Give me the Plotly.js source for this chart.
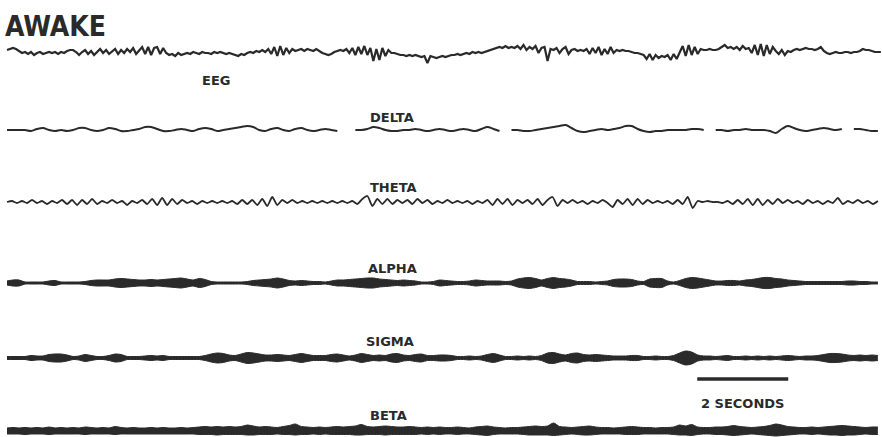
<!DOCTYPE html>
<html>
<head>
<meta charset="utf-8">
<script src="https://cdn.plot.ly/plotly-3.0.1.min.js"></script>
<style>
  html, body { margin: 0; padding: 0; background: #fff; }
  #chart { width: 882px; height: 437px; }
</style>
</head>
<body>
<div id="chart"></div>
<script>
// Sampling intervals of the stored records, in seconds
const EEG_DT = 0.066;
const THETA_DT = 0.11;
const ENV_DT = 0.132;

// Raw EEG (arbitrary amplitude units)
const eegRaw = [
  1, 2, 3, 2, 0, -2, -1, -3, -1, -4,
  -2, -1, -3, -2, -1, -2, -1, -3, -1, -2,
  0, 1, 1, -1, -4, -1, 1, -3, 0, -4,
  -1, 2, -2, 1, -3, 0, 2, -3, 1, -2,
  2, -1, 3, -3, 1, 4, -3, 4, -4, 3,
  4, -3, 3, -2, -4, -3, -5, -2, -4, -3,
  -2, -3, -1, -2, -3, -1, -2, -2, -3, -1,
  -2, -1, -2, -3, -2, -3, -4, -5, -3, -4,
  -2, -1, -2, 0, -1, 1, -1, 2, -3, 4,
  -5, 5, -4, 3, -2, 2, 0, 1, 2, 0,
  2, 1, 0, 2, 0, -2, -3, -4, -3, -1,
  0, 1, 0, 2, -2, 3, -4, 4, -3, 5,
  -4, 3, -10, 2, -9, 3, -5, 1, -2, -2,
  -3, -4, -4, -5, -4, -5, -4, -5, -6, -5,
  -12, -5, -6, -7, -6, -5, -6, -5, -4, -4,
  -3, -4, -3, -2, -3, -1, -2, -1, -2, -1,
  0, 1, 2, 3, 4, 3, 5, 3, 4, 3,
  5, 2, 6, 1, 4, 2, 5, -2, 3, 4,
  -10, 2, 1, 3, -2, 2, 4, -3, 1, 2,
  0, 1, 0, 2, -3, 3, -2, 4, -4, 2,
  -3, 4, -2, 1, 0, 1, 0, 0, -1, -2,
  -2, -3, -4, -8, -3, -9, -4, -7, -5, -6,
  -4, -9, -3, -8, -2, 5, -5, 6, -4, 4,
  -3, 2, 1, 1, 2, 1, 1, 2, 4, 6,
  3, 4, 2, 4, 1, 5, 2, 3, -2, 6,
  -4, 7, -5, 6, -3, 4, 0, -3, 1, -4,
  0, -1, 1, 2, 1, 2, 3, 2, 2, 1,
  2, 4, 0, -2, -3, -2, -1, -2, -2, -1,
  -1, -2, -1, -1, 0, 2, 1, 1, 0, -1,
  -1, -1
];

// Delta band (null = pen lift)
const deltaBand = [
  0, 0, 0, 0, -1, 1, 2, 0, -1, 0,
  -1, 0, 2, 2, 0, -1, 0, 2, 1, -1,
  -1, 0, 1, 3, 3, 1, -1, -1, 0, 1,
  0, -1, 1, 2, 1, -1, 0, 1, 2, 3,
  4, 3, 0, -1, 1, 2, 0, -1, 1, 2,
  0, -1, 0, 1, 0, -1, null, null, 0, 0,
  1, 3, 2, 0, -1, -1, 0, 0, 1, 0,
  -1, 0, 1, 0, -1, 0, 1, 0, -1, 1,
  3, 1, -1, null, 0, 0, -1, -1, 0, 1,
  2, 3, 4, 5, 2, -1, -2, -1, 0, 1,
  0, 1, 2, 4, 4, 1, -1, -2, -1, -1,
  0, 0, 0, 0, 1, 1, 0, null, 0, 0,
  -1, 0, 0, 1, 0, 0, 0, -1, -3, 1,
  4, 2, 0, -1, 0, 1, 2, 1, 0, 1,
  null, 1, 1, 0, -1, -1
];

// Theta band
const thetaBand = [
  0, 1, -1, 1, -1, 2, -1, 1, -2, 1,
  -1, 2, -2, 2, -3, 2, -2, 3, -2, 1,
  -1, 2, -1, 1, -3, 1, -1, 2, -2, 3,
  -3, 4, -3, 3, -2, 2, -1, 1, -2, 1,
  -1, 1, -1, 1, -1, 1, -2, 2, -2, 2,
  -3, 3, -4, 5, -3, 2, -1, 2, -1, 1,
  -1, 1, -1, 1, -1, 1, -1, 1, -1, 1,
  -2, 3, 6, -4, 3, -2, 3, -2, 2, -1,
  2, -2, 3, -1, 2, -2, 1, -1, 2, -1,
  1, -1, 1, -2, 1, -1, 2, -3, 3, -2,
  3, -3, 2, -1, 2, -2, 3, -3, 2, 5,
  -4, 2, -1, 2, -1, 1, -2, 1, -1, 2,
  -1, -5, 2, -2, 3, -3, 3, -2, 2, -1,
  1, -1, 1, -2, 2, -2, 5, -6, 1, 0,
  1, 0, 0, -1, 1, -2, 2, -2, 3, -3,
  3, -3, 2, -2, 3, -1, 2, -1, 1, -2,
  2, -1, 1, -2, 1, -1, 4, -2, 1, -1,
  2, -1, 1, -2, 1
];

// Alpha band envelope (half peak-to-peak)
const alphaEnvelope = [
  2, 3, 3, 1, 1, 1, 1, 2, 2.5, 1,
  1, 1, 1, 1.5, 2.5, 3, 3, 3, 4, 4.5,
  4, 3.5, 3, 3, 3.5, 3, 3.5, 4, 4.5, 5,
  4, 3, 4.5, 3.5, 1.5, 1, 1, 1, 1, 1,
  1.5, 2.5, 3, 3.5, 4, 5, 4, 2.5, 2, 2.5,
  2, 1.5, 1.5, 1, 2, 3, 3, 3.5, 4, 4.5,
  5, 5, 4, 3.5, 3, 2.5, 3, 2.5, 2, 1,
  1, 1.5, 3, 2.5, 2, 1.5, 1.5, 2, 3, 2.5,
  2, 2, 2, 1.5, 2, 4, 5, 5.5, 4.5, 3,
  4.5, 5.5, 4.5, 4, 3, 1.5, 1.5, 1.5, 1, 1.5,
  2, 3.5, 4, 4, 3.5, 2, 1.5, 4, 4.5, 4.5,
  2, 1, 2.5, 4.5, 5.5, 5, 4, 3, 2, 2,
  2.5, 2.5, 2, 3, 3.5, 4.5, 5.5, 5.5, 4.5, 4,
  3, 2.5, 2, 1.5, 1.5, 1.5, 1.5, 1.5, 1.5, 1.5,
  2, 2, 1.5, 1.5, 1, 1
];

// Sigma band envelope
const sigmaEnvelope = [
  1.5, 1.5, 1.5, 1.5, 2.5, 2, 2, 3.5, 4, 4,
  3, 1.5, 2, 3.5, 2.5, 1.5, 1.5, 2.5, 4, 3.5,
  1.5, 1.5, 1.5, 2, 2.5, 2, 2.5, 1.5, 1.5, 1.5,
  1.5, 1.5, 1.5, 2.5, 4, 5, 4.5, 3, 2.5, 4,
  5.5, 5, 4, 3, 3, 3.5, 3, 2.5, 3.5, 4.5,
  3.5, 2.5, 2.5, 2.5, 3.5, 4, 3, 2, 3, 4.5,
  3.5, 2.5, 3, 2.5, 4, 4.5, 3, 2.5, 3.5, 4,
  2.5, 2.5, 3, 3, 2.5, 1.5, 1.5, 2, 1.5, 2,
  3.5, 4.5, 3, 1.5, 1.5, 2, 1.5, 2, 1.5, 2.5,
  5, 5.5, 4, 3, 4.5, 5, 3.5, 3, 3.5, 3,
  2.5, 2, 2, 2, 2.5, 2.5, 1.5, 1.5, 2, 1.5,
  1.5, 2.5, 5, 7, 6, 3, 2, 2, 1.5, 2,
  2.5, 1.5, 1.5, 2, 1.5, 2, 1.5, 2, 1.5, 2,
  2.5, 2, 1.5, 2, 2, 2.5, 3.5, 4.5, 4.5, 4,
  3, 2.5, 3, 2.5, 3, 2.5
];

// Beta band: upper and lower excursion
const betaUpper = [
  3, 3.5, 3, 3.5, 3, 3.5, 3, 4, 3, 3.5,
  3, 3.5, 3, 4, 3.5, 3, 3.5, 3, 4.5, 3.5,
  3, 3.5, 3, 3, 3.5, 3, 3.5, 3, 3, 3.5,
  3, 3.5, 4, 4.5, 4, 4.5, 4, 4.5, 4, 4.5,
  6, 5, 4, 4.5, 4, 3.5, 4.5, 5.5, 7, 4.5,
  4, 3.5, 4, 3.5, 4, 4.5, 4, 4.5, 5, 6.5,
  4.5, 4, 4.5, 5, 4.5, 4, 4, 4.5, 4, 3.5,
  4, 3.5, 4, 3.5, 3.5, 4, 3.5, 3, 4, 4.5,
  5, 4, 3.5, 3, 3.5, 3.5, 4, 4.5, 5, 4.5,
  5, 8, 4.5, 4, 3.5, 4, 4.5, 5, 4, 3.5,
  3.5, 3, 3.5, 4, 4.5, 4, 3.5, 3.5, 3, 3.5,
  3.5, 4, 6, 5, 6.5, 4, 3.5, 3.5, 4, 4,
  4.5, 5.5, 4.5, 4, 3.5, 4, 4.5, 5.5, 7, 6,
  4.5, 4, 3.5, 3.5, 4, 3.5, 4, 4.5, 5, 5.5,
  5, 4.5, 4, 3.5, 4, 4
];
const betaLower = [
  3, 3, 3, 3.5, 3, 3, 3, 3.5, 3, 3,
  3, 3, 3, 3.5, 3, 3, 3, 3, 3.5, 3,
  3, 3, 3, 3, 3, 3, 3, 3, 3, 3,
  3, 3, 3.5, 3.5, 3.5, 4, 3.5, 3.5, 3.5, 3.5,
  4, 4, 3.5, 3.5, 3.5, 3, 3.5, 3.5, 4, 3.5,
  3.5, 3, 3.5, 3, 3.5, 3.5, 3.5, 3.5, 4, 4,
  3.5, 3.5, 3.5, 4, 3.5, 3.5, 3.5, 3.5, 3.5, 3,
  3.5, 3, 3.5, 3, 3, 3.5, 3, 3, 3.5, 4,
  4.5, 3.5, 3, 3, 3, 3, 3.5, 4, 4, 4,
  4, 4.5, 4, 3.5, 3, 3.5, 4, 4, 3.5, 3,
  3, 3, 3, 3.5, 3.5, 3.5, 3, 3, 3, 3,
  3, 3.5, 4, 4, 4.5, 3.5, 3, 3, 3.5, 3.5,
  4, 4.5, 4, 3.5, 3, 3.5, 4, 4.5, 5, 4.5,
  4, 3.5, 3, 3, 3.5, 3, 3.5, 4, 4, 4.5,
  4, 4, 3.5, 3, 3.5, 3.5
];

const channelLabels = ['EEG', 'DELTA', 'THETA', 'ALPHA', 'SIGMA', 'BETA'];
const stateTitle = 'AWAKE';
const scaleBarSeconds = 2;
const scaleBarLabel = '2 SECONDS';

// ---- page geometry ----
const W = 882, H = 437;
const PX_PER_S = 45.5;      // chart speed
const START_PX = 7;         // left end of every record
const INK = '#2a2a2a';

const rowCenters = [51, 130, 202, 283, 358, 431];   // baseline of each record (px)
const labelPos = [[216, 81], [392, 117], [393, 187], [392, 268], [390, 341], [388, 415]];

function times(n, dt) { const t = []; for (let i = 0; i < n; i++) t.push(i * dt); return t; }

// one y axis per record, 1 amplitude unit = 1 px
function rowAxis(cy, half) {
  const top = Math.max(0, cy - half), bot = Math.min(H, cy + half);
  return {
    domain: [1 - bot / H, 1 - top / H],
    range: [-(bot - cy), cy - top],
    visible: false, fixedrange: true
  };
}

// filled envelope between the lower and upper excursion of a band
function band(upper, lower, dt, yax) {
  const t = times(upper.length, dt);
  const lo = lower.map(v => -v);
  return [
    { x: t, y: lo, yaxis: yax, mode: 'lines', line: { color: INK, width: 1, shape: 'spline', smoothing: 0.8 },
      hoverinfo: 'skip', showlegend: false },
    { x: t, y: upper, yaxis: yax, mode: 'lines', fill: 'tonexty', fillcolor: INK,
      line: { color: INK, width: 1, shape: 'spline', smoothing: 0.8 }, hoverinfo: 'skip', showlegend: false }
  ];
}

const traces = [
  { x: times(eegRaw.length, EEG_DT), y: eegRaw, yaxis: 'y', mode: 'lines',
    line: { color: INK, width: 2.2 }, hoverinfo: 'skip', showlegend: false },
  { x: times(deltaBand.length, ENV_DT), y: deltaBand, yaxis: 'y2', mode: 'lines', connectgaps: false,
    line: { color: INK, width: 2, shape: 'spline', smoothing: 1 }, hoverinfo: 'skip', showlegend: false },
  { x: times(thetaBand.length, THETA_DT), y: thetaBand, yaxis: 'y3', mode: 'lines',
    line: { color: INK, width: 1.8, shape: 'spline', smoothing: 0.6 }, hoverinfo: 'skip', showlegend: false },
  ...band(alphaEnvelope, alphaEnvelope, ENV_DT, 'y4'),
  ...band(sigmaEnvelope, sigmaEnvelope, ENV_DT, 'y5'),
  ...band(betaUpper, betaLower, ENV_DT, 'y6')
];

const labelFont = { family: 'DejaVu Sans, Arial, sans-serif', size: 13, color: INK };
const annotations = channelLabels.map((txt, k) => ({
  text: '<b>' + txt + '</b>', xref: 'paper', yref: 'paper',
  x: labelPos[k][0] / W, y: 1 - labelPos[k][1] / H,
  xanchor: 'center', yanchor: 'middle', showarrow: false, font: labelFont
}));
annotations.push({
  text: '<b>' + stateTitle + '</b>', xref: 'paper', yref: 'paper',
  x: 55 / W, y: 1 - 26 / H, xanchor: 'center', yanchor: 'middle', showarrow: false,
  font: { family: 'DejaVu Sans Condensed, Liberation Sans Narrow, sans-serif', size: 28, color: INK }
});

const scaleBarStart = 15.17;  // seconds
annotations.push({
  text: '<b>' + scaleBarLabel + '</b>', xref: 'x', yref: 'paper',
  x: scaleBarStart + scaleBarSeconds / 2, y: 1 - 403 / H,
  xanchor: 'center', yanchor: 'middle', showarrow: false, font: labelFont
});

const layout = {
  width: W, height: H,
  margin: { l: 0, r: 0, t: 0, b: 0 },
  paper_bgcolor: '#ffffff', plot_bgcolor: '#ffffff',
  showlegend: false,
  xaxis: { range: [-START_PX / PX_PER_S, (W - START_PX) / PX_PER_S], visible: false, fixedrange: true },
  annotations: annotations,
  shapes: [{
    type: 'line', xref: 'x', yref: 'paper',
    x0: scaleBarStart, x1: scaleBarStart + scaleBarSeconds,
    y0: 1 - 379 / H, y1: 1 - 379 / H,
    line: { color: INK, width: 3.5 }
  }]
};
rowCenters.forEach((cy, k) => {
  layout[k === 0 ? 'yaxis' : 'yaxis' + (k + 1)] = rowAxis(cy, 30);
});

Plotly.newPlot('chart', traces, layout, { staticPlot: true, displayModeBar: false });
</script>
</body>
</html>
